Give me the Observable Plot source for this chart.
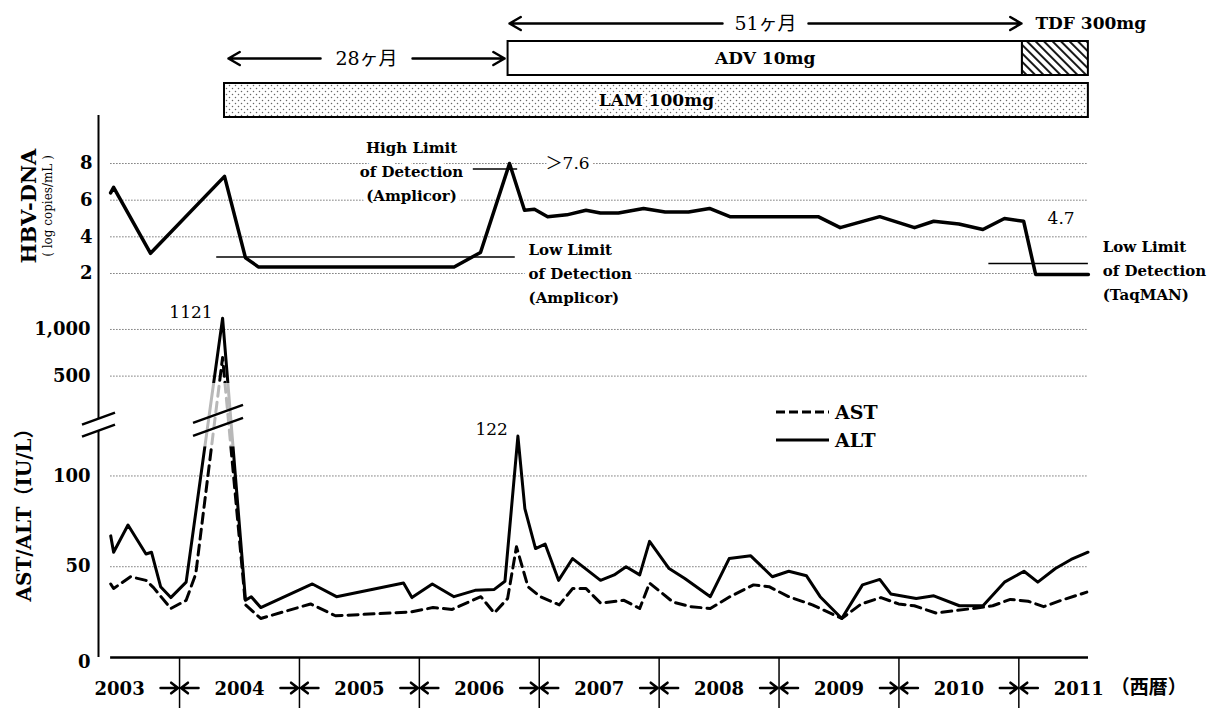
<!DOCTYPE html>
<html><head><meta charset="utf-8">
<script src="https://cdn.jsdelivr.net/npm/d3@7"></script>
<script src="https://cdn.jsdelivr.net/npm/@observablehq/plot@0.6"></script>
<style>
body{margin:0;background:#fff;}
#chart{position:relative;width:1215px;height:708px;overflow:hidden;background:#fff;}
.vt{position:absolute;transform:translate(-50%,-50%) rotate(-90deg);white-space:nowrap;color:#000;}
</style></head><body><div id="chart"></div>
<script>
// ---------------- data ----------------
const years = [2003, 2004, 2005, 2006, 2007, 2008, 2009, 2010, 2011];
const yearBoundaries = [2004, 2005, 2006, 2007, 2008, 2009, 2010, 2011];

const drugNames = ["LAM 100mg", "ADV 10mg", "TDF 300mg"];
const drugRow = ["LAM", "ADV", "ADV"];
const drugStart = [2004.375, 2006.74, 2011.03];
const drugEnd = [2011.58, 2011.03, 2011.58];

const durLabels = ["28ヶ月", "51ヶ月"];
const durFrom = [2004.408, 2006.752];
const durTo = [2006.711, 2011.022];

const hbvDate = [2003.425,2003.45,2003.758,2004.375,2004.55,2004.66,2006.29,2006.51,2006.752,2006.877,2006.96,2007.07,2007.23,2007.39,2007.51,2007.66,2007.87,2008.05,2008.245,2008.42,2008.59,2008.885,2009.326,2009.51,2009.84,2010.13,2010.29,2010.50,2010.70,2010.88,2011.04,2011.14,2011.58];
const hbvLog = [6.4,6.7,3.1,7.3,2.85,2.35,2.35,3.15,8.0,5.45,5.5,5.1,5.2,5.45,5.3,5.3,5.55,5.35,5.35,5.55,5.1,5.1,5.1,4.5,5.1,4.5,4.85,4.7,4.4,5.0,4.85,1.95,1.95];
const hbvTicks = [2, 4, 6, 8];

const limitLog = [2.9, 7.7, 2.55];
const limitFrom = [2004.31, 2006.45, 2010.75];
const limitTo = [2006.80, 2006.82, 2011.58];

const altDate = [2003.426,2003.450,2003.570,2003.720,2003.766,2003.842,2003.927,2004.055,2004.359,2004.550,2004.598,2004.677,2005.108,2005.309,2005.868,2005.938,2006.108,2006.289,2006.465,2006.625,2006.714,2006.822,2006.880,2006.969,2007.049,2007.161,2007.278,2007.511,2007.625,2007.724,2007.838,2007.920,2008.083,2008.214,2008.427,2008.584,2008.764,2008.944,2009.081,2009.229,2009.343,2009.523,2009.696,2009.840,2009.932,2010.144,2010.291,2010.504,2010.701,2010.880,2011.043,2011.158,2011.305,2011.436,2011.577];
const altValue = [67,58,73,57,58,39,33,41.5,1121,31.5,33.5,27.5,40.5,33.5,41,33,40.5,33.5,37,37.5,42,122,82,60,62.5,42.5,54.5,42.5,45.5,50,45.5,64,49,43.5,33.5,54.5,56,44.5,47.5,45,33.5,21.5,40,43,35,32.5,34,28.5,28.5,41.5,47.5,41.5,49,54,58];
const astDate = [2003.426,2003.450,2003.591,2003.720,2003.783,2003.927,2004.055,2004.135,2004.359,2004.550,2004.677,2005.093,2005.300,2005.922,2006.114,2006.274,2006.513,2006.625,2006.736,2006.810,2006.906,2007.008,2007.167,2007.279,2007.390,2007.511,2007.707,2007.838,2007.920,2008.116,2008.264,2008.427,2008.590,2008.787,2008.917,2009.081,2009.278,2009.523,2009.686,2009.850,2009.997,2010.128,2010.308,2010.488,2010.618,2010.782,2010.929,2011.077,2011.207,2011.354,2011.567];
const astValue = [40.5,38,44.5,42.5,38.5,27,31.5,46,700,29,21.5,29.5,23,25,27.5,26.5,33.5,24.5,32.5,61,39,33.5,29,38,38,30,31.5,27,41,30.5,28,27,33.5,40,39,33.5,29,21.5,29.5,33,29.5,28.5,24.5,26,27,28.5,32,31,28,31.5,36];
const enzTicks = [0, 50, 100, 500, 1000];
const enzTickLabels = ["0", "50", "100", "500", "1,000"];
const peakLabels = [1121, 122];
const legendNames = ["AST", "ALT"];

// ---------------- layout / helpers ----------------
const W = 1215, ML = 98, MR = 127;
const X0 = 2003.324, X1 = 2011.581, GRID0 = 2003.425;
const SERIF = '"DejaVu Serif", "Liberation Serif", "Noto Sans CJK JP", serif';
const CJK = '"Noto Sans CJK JP", sans-serif';
// broken axis: 0-130 linear, 500+ compressed
const brk = v => v <= 130 ? v : v >= 500 ? 155 + (v - 500) * 0.0514 : 130 + (v - 130) * 25 / 370;

const chart = document.getElementById("chart");
function panel(top, height, opts) {
  const svg = Plot.plot(Object.assign({
    width: W, height, marginLeft: ML, marginRight: MR, marginTop: 0, marginBottom: 0,
    x: {domain: [X0, X1], axis: null},
    style: {background: "transparent", overflow: "visible", fontFamily: SERIF, color: "black"}
  }, opts));
  svg.style.position = "absolute"; svg.style.left = "0px"; svg.style.top = top + "px";
  chart.appendChild(svg);
  return svg;
}

// ---------------- treatment panel ----------------
const trt = drugNames.map((name, i) => ({name, row: drugRow[i], start: drugStart[i], end: drugEnd[i]}));
const tMarks = [
  Plot.barX(trt.filter(d => d.name === "LAM 100mg"), {x1: "start", x2: "end", y: "row", fill: "url(#lamDots)", stroke: "black", strokeWidth: 2}),
  Plot.barX(trt.filter(d => d.name === "ADV 10mg"), {x1: "start", x2: "end", y: "row", fill: "white", stroke: "black", strokeWidth: 2}),
  Plot.barX(trt.filter(d => d.name === "TDF 300mg"), {x1: "start", x2: "end", y: "row", fill: "url(#tdfHatch)", stroke: "black", strokeWidth: 2}),
  Plot.text(trt.filter(d => d.name !== "TDF 300mg"), {x: d => (d.start + d.end) / 2, y: "row", text: "name", fontSize: 17, fontWeight: "bold", fill: "black", stroke: "white", strokeWidth: 5, paintOrder: "stroke"}),
  Plot.text(trt.filter(d => d.name === "TDF 300mg"), {x: "start", y: "row", text: "name", textAnchor: "start", dx: 13, dy: -35, fontSize: 17, fontWeight: "bold", fill: "black"})
];
durLabels.forEach((label, i) => {
  const mid = (durFrom[i] + durTo[i]) / 2;
  const dy = i === 1 ? -35 : 0;
  const inset = i === 1 ? 43 : 46;
  const common = {y1: () => "ADV", y2: () => "ADV", dy, insetStart: inset, strokeWidth: 2.5, headLength: 7.8, stroke: "black"};
  tMarks.push(Plot.arrow([label], {x1: () => mid, x2: () => durFrom[i], ...common}));
  tMarks.push(Plot.arrow([label], {x1: () => mid, x2: () => durTo[i], ...common}));
  tMarks.push(Plot.text([label], {x: () => mid, y: () => "ADV", text: d => d, dy, fontSize: 19, fill: "black"}));
});
const svgT = panel(0, 125, {
  marginTop: 41, marginBottom: 7,
  y: {type: "band", domain: ["ADV", "LAM"], axis: null, paddingInner: 0.188, paddingOuter: 0},
  marks: tMarks
});
d3.select(svgT).insert("defs", ":first-child").html(
  '<pattern id="lamDots" width="6" height="6" patternUnits="userSpaceOnUse">' +
  '<rect width="6" height="6" fill="white"/><circle cx="1.5" cy="1.5" r="0.75" fill="#666"/><circle cx="4.5" cy="4.5" r="0.75" fill="#666"/></pattern>' +
  '<pattern id="tdfHatch" width="6" height="6" patternUnits="userSpaceOnUse" patternTransform="rotate(-45)">' +
  '<rect width="6" height="6" fill="white"/><line x1="1" y1="0" x2="1" y2="6" stroke="black" stroke-width="1.8"/></pattern>');

// ---------------- HBV-DNA panel ----------------
const hbv = hbvDate.map((d, i) => ({date: d, log: hbvLog[i]}));
const limits = limitLog.map((v, i) => ({log: v, from: limitFrom[i], to: limitTo[i]}));
const halo = {fill: "black", stroke: "white", strokeWidth: 9, paintOrder: "stroke"};
const hMarks = [
  Plot.ruleY(hbvTicks, {x1: GRID0, x2: X1, stroke: "#777", strokeWidth: 1, strokeDasharray: "1.5,1.5"}),
  Plot.ruleX([X0], {stroke: "black", strokeWidth: 2}),
  Plot.ruleY(limits, {y: "log", x1: "from", x2: "to", stroke: "black", strokeWidth: 1.5}),
  Plot.line(hbv, {x: "date", y: "log", stroke: "black", strokeWidth: 3.5}),
  Plot.text(hbvTicks, {y: d => d, text: d => String(d), frameAnchor: "left", textAnchor: "end", dx: -6, fontSize: 18, fontWeight: "bold", fill: "black"}),
  Plot.text(["High Limit\nof Detection\n(Amplicor)"], {x: () => 2005.935, y: () => 7.67, text: d => d, lineHeight: 1.6, fontSize: 15, fontWeight: "bold", ...halo}),
  Plot.text(["Low Limit\nof Detection\n(Amplicor)"], {x: () => 2006.911, y: () => 2.11, text: d => d, textAnchor: "start", lineHeight: 1.6, fontSize: 15, fontWeight: "bold", ...halo}),
  Plot.text(["Low Limit\nof Detection\n(TaqMAN)"], {x: () => 2011.70, y: () => 2.27, text: d => d, textAnchor: "start", lineHeight: 1.6, fontSize: 15, fontWeight: "bold", ...halo}),
  Plot.text(["＞7.6"], {x: () => 2007.053, y: () => 8.0, text: d => d, textAnchor: "start", fontSize: 17, ...halo}),
  Plot.text(["4.7"], {x: () => 2011.24, y: () => 5.02, text: d => d, textAnchor: "start", fontSize: 17, fill: "black"})
];
panel(115, 190, {y: {domain: [0.254, 10.62], axis: null}, marks: hMarks});

// ---------------- AST / ALT panel ----------------
const alt = altDate.map((d, i) => ({date: d, v: altValue[i]}));
const ast = astDate.map((d, i) => ({date: d, v: astValue[i]}));
const peaks = alt.filter(d => peakLabels.includes(d.v));
const tickFont = {frameAnchor: "left", textAnchor: "end", dx: -8, fontSize: 18, fontWeight: "bold", fill: "black"};
const svgA = panel(305, 352, {
  y: {domain: [0, 193.9], axis: null},
  marks: [
    Plot.ruleY(enzTicks.filter(d => d > 0), {y: d => brk(d), x1: GRID0, x2: X1, stroke: "#777", strokeWidth: 1, strokeDasharray: "1.5,1.5"}),
    Plot.ruleX([X0], {stroke: "black", strokeWidth: 2}),
    Plot.line(ast, {x: "date", y: d => brk(d.v), stroke: "black", strokeWidth: 3, strokeDasharray: "10,6"}),
    Plot.line(alt, {x: "date", y: d => brk(d.v), stroke: "black", strokeWidth: 3}),
    Plot.ruleY([0], {x1: GRID0, x2: X1, stroke: "black", strokeWidth: 2.5}),
    Plot.text(enzTicks.filter(d => d > 0), {y: d => brk(d), text: d => enzTickLabels[enzTicks.indexOf(d)], ...tickFont}),
    Plot.text(enzTicks.filter(d => d === 0), {y: d => brk(d), text: d => enzTickLabels[enzTicks.indexOf(d)], dy: 5, ...tickFont}),
    Plot.text(peaks, {x: "date", y: d => brk(d.v), text: d => String(d.v), textAnchor: "end", dx: -10, dy: -6, fontSize: 17, fill: "black"})
  ]
});
{
  const sx = svgA.scale("x"), sy = svgA.scale("y");
  const fx = d3.scaleLinear(sx.domain, sx.range), fy = d3.scaleLinear(sy.domain, sy.range);
  const g = d3.select(svgA).append("g");
  // faded lines in the axis break
  g.append("rect").attr("x", fx(2003.97)).attr("width", fx(2004.62) - fx(2003.97))
    .attr("y", fy(brk(440))).attr("height", fy(brk(116)) - fy(brk(440)))
    .attr("fill", "white").attr("opacity", 0.72);
  // break marks on axis
  const ax = fx(X0), ay = fy(brk(128));
  g.append("path").attr("d", `M${ax - 16},${ay} L${ax + 17},${ay - 12} L${ax + 17},${ay} L${ax - 16},${ay + 12}Z`).attr("fill", "white");
  [-6, 6].forEach(o => g.append("line").attr("x1", ax - 16).attr("y1", ay + o + 6).attr("x2", ax + 17).attr("y2", ay + o - 6).attr("stroke", "black").attr("stroke-width", 2.5));
  // break marks on data
  const bx = fx(2004.325), by = fy(brk(134.7));
  [-6.5, 6.5].forEach(o => g.append("line").attr("x1", bx - 25).attr("y1", by + o + 9).attr("x2", bx + 25).attr("y2", by + o - 9).attr("stroke", "black").attr("stroke-width", 2.5));
  // legend
  const lg = g.append("g").attr("font-family", SERIF).attr("font-size", 19).attr("font-weight", "bold").attr("text-anchor", "start");
  legendNames.forEach((name, i) => {
    const y = 107 + i * 28;
    const l = lg.append("line").attr("x1", 776).attr("x2", 829).attr("y1", y).attr("y2", y).attr("stroke", "black").attr("stroke-width", 3);
    if (name === "AST") l.attr("stroke-dasharray", "9,4");
    lg.append("text").attr("x", 835).attr("y", y).attr("dy", "0.35em").attr("fill", "black").text(name);
  });
}

// ---------------- time axis panel ----------------
const yearFont = {fontSize: 18, fontWeight: "bold", fill: "black"};
const yArrow = {y1: () => "year", y2: () => "year", dy: 5, insetStart: 41, insetEnd: 1.5, strokeWidth: 2.6, headLength: 5, headAngle: 75, stroke: "black"};
panel(657, 51, {
  y: {type: "band", domain: ["year"], axis: null, paddingInner: 0, paddingOuter: 0},
  marks: [
    Plot.ruleX(yearBoundaries, {stroke: "black", strokeWidth: 1.5}),
    Plot.text(years, {x: d => d + 0.5, y: () => "year", text: d => String(d), dy: 6, ...yearFont}),
    Plot.arrow(yearBoundaries, {x1: d => d - 0.5, x2: d => d, ...yArrow}),
    Plot.arrow(yearBoundaries, {x1: d => d + 0.5, x2: d => d, ...yArrow}),
    Plot.text(["（西暦）"], {x: () => years[years.length - 1] + 0.5, y: () => "year", text: d => d, textAnchor: "start", dx: 32, dy: 5, fontFamily: CJK, fontSize: 19, fontWeight: "bold", fill: "black"})
  ]
});

// ---------------- axis titles ----------------
const titles = [
  {text: "HBV-DNA", x: 28, y: 206, font: `bold 21px ${SERIF}`},
  {text: "( log copies/mL )", x: 48, y: 206, font: `12px ${SERIF}`},
  {text: "AST/ALT（IU/L）", x: 22, y: 510, font: `bold 20px ${SERIF}`}
];
titles.forEach(t => {
  const div = document.createElement("div");
  div.className = "vt"; div.textContent = t.text;
  div.style.left = t.x + "px"; div.style.top = t.y + "px"; div.style.font = t.font;
  chart.appendChild(div);
});
</script></body></html>
